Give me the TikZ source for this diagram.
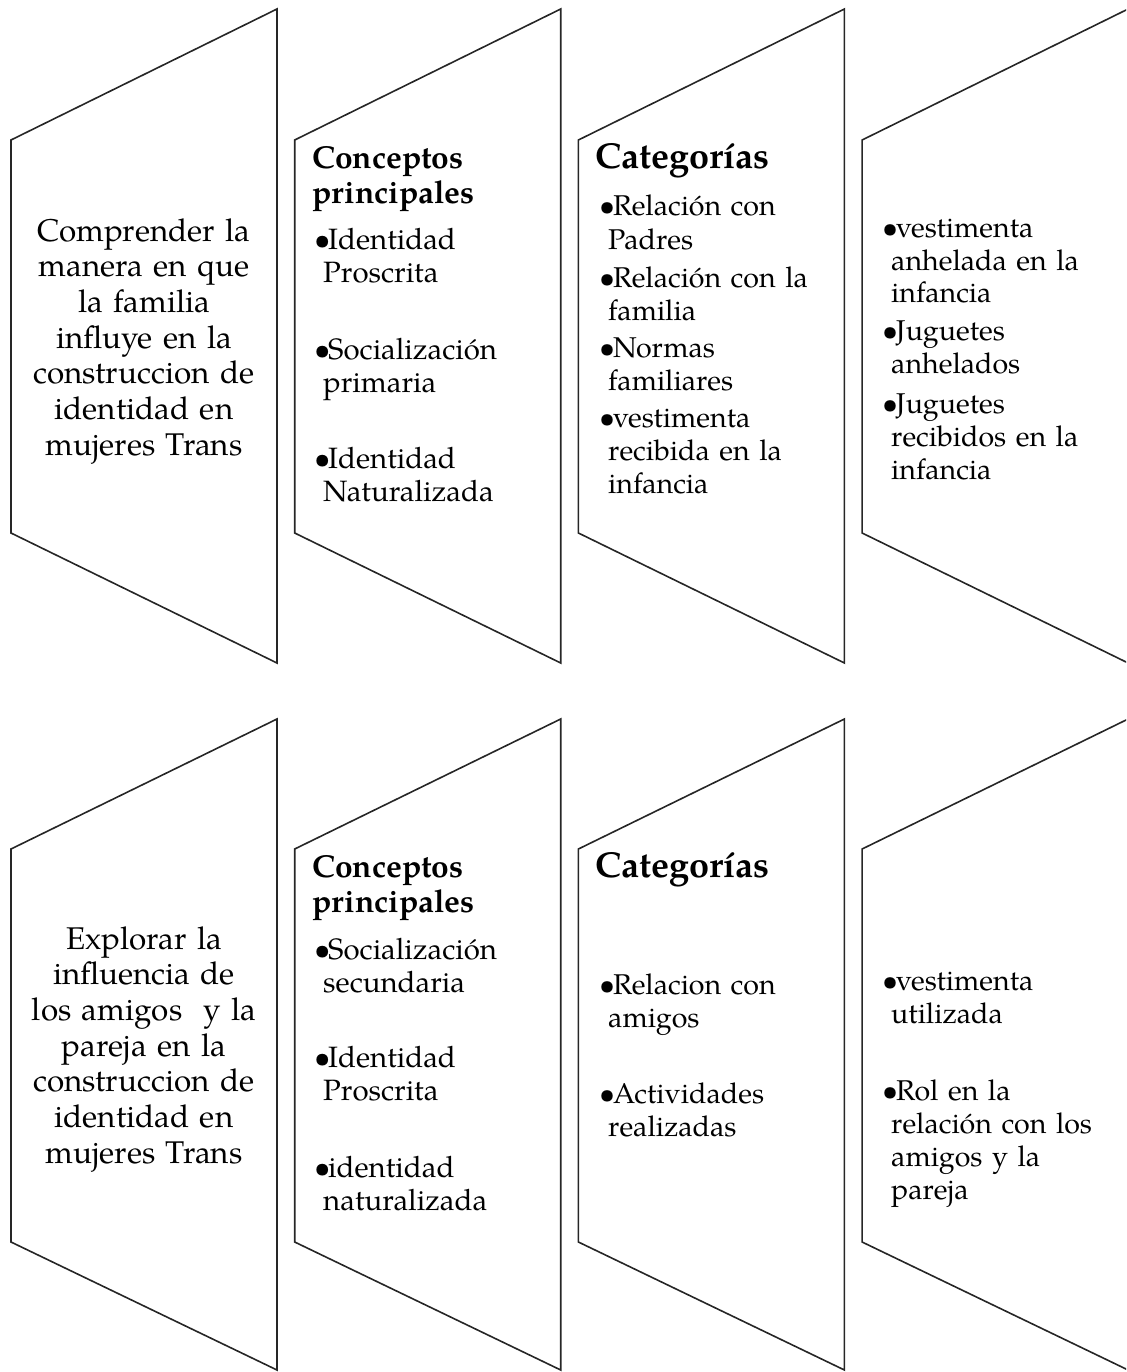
\documentclass[tikz,border=0pt]{standalone}
\usepackage{fontspec}
\setmainfont{texgyrepagella}[Extension=.otf, UprightFont=*-regular, BoldFont=*-bold, ItalicFont=*-italic, BoldItalicFont=*-bolditalic]
\begin{document}
\begin{tikzpicture}[x=1pt,y=-1pt,
  panel/.style={draw=black!85, line width=1.6pt, line join=miter},
  goal/.style={inner sep=0pt, anchor=base, text width=270pt, align=center, font=\fontsize{31.4}{35.7}\selectfont},
  head/.style={inner sep=0pt, anchor=base west, text width=260pt, align=left, font=\fontsize{31.7}{35}\selectfont\bfseries},
  cathead/.style={head, font=\fontsize{36}{35}\selectfont\bfseries},
  item/.style={inner sep=0pt, anchor=base west, text width=250pt, align=left, font=\fontsize{28.6}{33}\selectfont},
  citem/.style={item, font=\fontsize{29.4}{33}\selectfont}]
\newcommand{\bul}{\makebox[14pt][l]{\textbullet}}
\newcommand{\cont}{\hspace*{9pt}}
\useasboundingbox (0,0) rectangle (1126,1372);
\clip (0,0) rectangle (1126,1372);
% panels
\foreach \i in {0,1,2,3}{
  \pgfmathsetmacro{\L}{11+283.7*\i}
  \pgfmathsetmacro{\R}{\L+266}
  \draw[panel] (\L,140) -- (\R,9) -- (\R,663) -- (\L,533) -- cycle;
  \draw[panel] (\L,849) -- (\R,719) -- (\R,1370) -- (\L,1242) -- cycle;
}
% row 1
\node[goal] (g1) at (144,241) {Comprender la\\manera en que\\la familia\\influye en la\\construccion de\\identidad en\\mujeres Trans};
\node[head] (h1a) at (312,169) {Conceptos\\principales};
\node[citem] (c1a) at (314,249) {\bul Identidad\\\cont Proscrita};
\node[citem] (c1b) at (314,359) {\bul Socialización\\\cont primaria};
\node[citem] (c1c) at (314,468) {\bul Identidad\\\cont Naturalizada};
\node[cathead] (h1b) at (595,169) {Categorías};
\node[item] (k1a) at (599,216) {\bul Relación con\\\cont Padres};
\node[item] (k1b) at (599,287) {\bul Relación con la\\\cont familia};
\node[item] (k1c) at (599,357) {\bul Normas\\\cont familiares};
\node[item] (k1d) at (599,427) {\bul vestimenta\\\cont recibida en la\\\cont infancia};
\node[item] (s1a) at (882,237) {\bul vestimenta\\\cont anhelada en la\\\cont infancia};
\node[item] (s1b) at (882,340) {\bul Juguetes\\\cont anhelados};
\node[item] (s1c) at (882,413) {\bul Juguetes\\\cont recibidos en la\\\cont infancia};
% row 2
\node[goal] (g2) at (144,949) {Explorar la\\influencia de\\los amigos~ y la\\pareja en la\\construccion de\\identidad en\\mujeres Trans};
\node[head] (h2a) at (312,877) {Conceptos\\principales};
\node[citem] (c2a) at (314,959) {\bul Socialización\\\cont secundaria};
\node[citem] (c2b) at (314,1067) {\bul Identidad\\\cont Proscrita};
\node[citem] (c2c) at (314,1177) {\bul identidad\\\cont naturalizada};
\node[cathead] (h2b) at (595,877) {Categorías};
\node[item] (k2a) at (599,994) {\bul Relacion con\\\cont amigos};
\node[item] (k2b) at (599,1103) {\bul Actividades\\\cont realizadas};
\node[item] (s2a) at (882,990) {\bul vestimenta\\\cont utilizada};
\node[item] (s2b) at (882,1100) {\bul Rol en la\\\cont relación con los\\\cont amigos y la\\\cont pareja};
\end{tikzpicture}
\end{document}
